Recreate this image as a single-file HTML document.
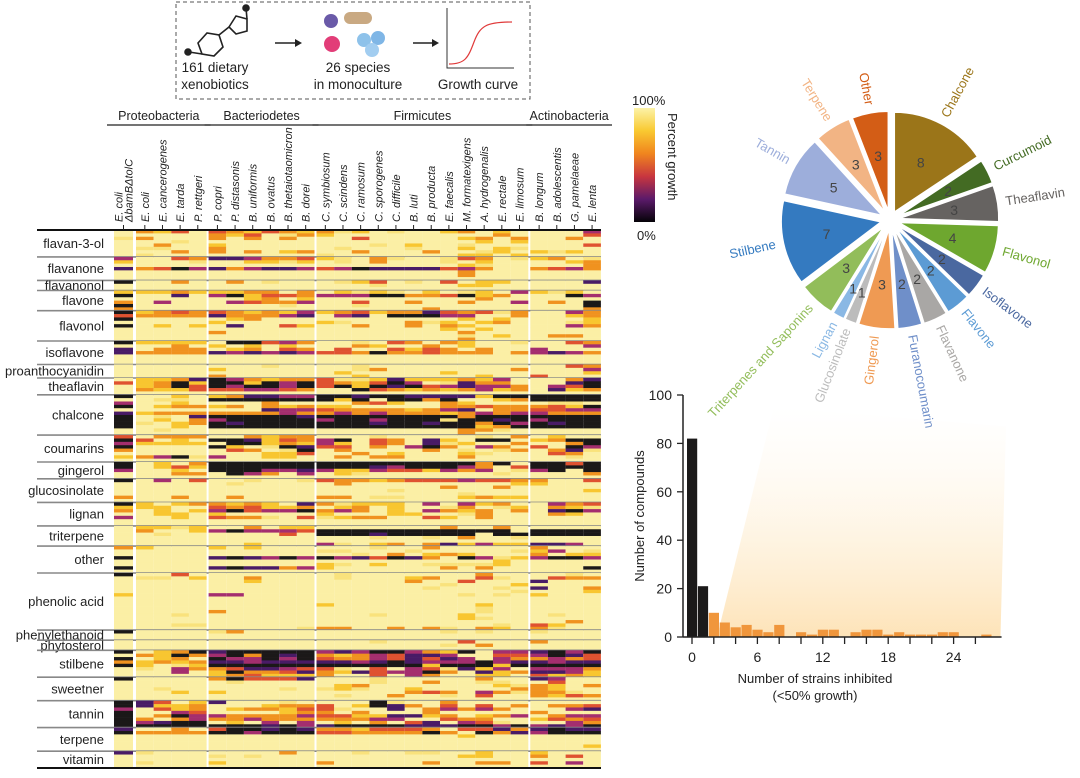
<!DOCTYPE html>
<html><head><meta charset="utf-8"><style>
html,body{margin:0;padding:0;background:#fff;}
svg{display:block;font-family:"Liberation Sans",sans-serif;}
</style></head><body>
<svg id="fig" width="1080" height="778" viewBox="0 0 1080 778" xmlns="http://www.w3.org/2000/svg">
<defs>
<linearGradient id="cbar" x1="0" y1="0" x2="0" y2="1">
<stop offset="0" stop-color="#fcf3a8"/><stop offset="0.2" stop-color="#f9c931"/><stop offset="0.4" stop-color="#f0851e"/><stop offset="0.6" stop-color="#c8363f"/><stop offset="0.8" stop-color="#5b1a6a"/><stop offset="1" stop-color="#050308"/>
</linearGradient>
<linearGradient id="fade" x1="0" y1="0" x2="0" y2="1">
<stop offset="0" stop-color="#fff6e6" stop-opacity="0"/><stop offset="1" stop-color="#fde0b0" stop-opacity="0.9"/>
</linearGradient>
</defs>
<g id="schematic">
<rect x="176" y="2" width="354" height="97" fill="none" stroke="#555" stroke-dasharray="4,3"/>
<g stroke="#222" stroke-width="1.6" fill="none">
<polygon points="198,43 207,33 219,35 223,47 214,56 202,54"/>
<line x1="189" y1="52" x2="202" y2="54"/>
<line x1="219" y1="35" x2="229" y2="27"/>
<polygon points="229,27 236,16 247,19 247,31 236,34"/>
<circle cx="188" cy="52" r="3" fill="#222"/>
<circle cx="246" cy="8" r="3" fill="#222"/>
<line x1="247" y1="19" x2="246" y2="8"/>
</g>
<text x="215" y="72" font-size="13.5" text-anchor="middle" fill="#222">161 dietary</text>
<text x="215" y="89" font-size="13.5" text-anchor="middle" fill="#222">xenobiotics</text>
<line x1="275" y1="43" x2="297" y2="43" stroke="#222" stroke-width="1.5"/>
<polygon points="302,43 295,39 295,47" fill="#222"/>
<g>
<circle cx="331" cy="21" r="7" fill="#6a5aa8"/>
<rect x="344" y="12" width="28" height="12" rx="6" fill="#c9a982"/>
<circle cx="332" cy="44" r="8" fill="#e23d78"/>
<circle cx="364" cy="40" r="7" fill="#8ec2ea"/>
<circle cx="378" cy="38" r="7" fill="#7fb6e6"/>
<circle cx="372" cy="50" r="7" fill="#a2cdf0"/>
</g>
<text x="358" y="72" font-size="13.5" text-anchor="middle" fill="#222">26 species</text>
<text x="358" y="89" font-size="13.5" text-anchor="middle" fill="#222">in monoculture</text>
<line x1="413" y1="43" x2="434" y2="43" stroke="#222" stroke-width="1.5"/>
<polygon points="439,43 432,39 432,47" fill="#222"/>
<g>
<polyline points="447,8 447,68 514,68" fill="none" stroke="#333" stroke-width="1"/>
<path d="M449,64 C465,64 468,58 474,42 C480,26 486,22 512,22" fill="none" stroke="#e03a3a" stroke-width="1.2"/>
</g>
<text x="478" y="89" font-size="13.5" text-anchor="middle" fill="#222">Growth curve</text>
</g>
<g id="heatmap"></g>
<g id="colorbar">
<rect x="634" y="108" width="21" height="114" fill="url(#cbar)"/>
<text x="632" y="105" font-size="13" fill="#222">100%</text>
<text x="637" y="240" font-size="13" fill="#222">0%</text>
<text transform="translate(668,113) rotate(90)" font-size="13" fill="#222">Percent growth</text>
</g>
<g id="pie"></g>
<g id="hist"></g>
</svg>
<script>
// ---------------- Heatmap data ----------------
const hmGroups = ["flavan-3-ol","flavanone","flavanonol","flavone","flavonol","isoflavone","proanthocyanidin","theaflavin","chalcone","coumarins","gingerol","glucosinolate","lignan","triterpene","other","phenolic acid","phenylethanoid","phytosterol","stilbene","sweetner","tannin","terpene","vitamin"];
const hmSpecies = ["E. coli|ΔbamBΔtolC","E. coli","E. cancerogenes","E. tarda","P. rettgeri","P. copri","P. distasonis","B. uniformis","B. ovatus","B. thetaiotaomicron","B. dorei","C. symbiosum","C. scindens","C. ramosum","C. sporogenes","C. difficile","B. luti","B. producta","E. faecalis","M. formatexigens","A. hydrogenalis","E. rectale","E. limosum","B. longum","B. adolescentis","G. pamelaeae","E. lenta"];
const phyla = ["Proteobacteria","Bacteriodetes","Firmicutes","Actinobacteria"];
const hmRows = [
[".|oyr.|royroy|oly.l..yo.y.|...m",".|....|oyr.lo|y.........o.|...r","l|o...|o.o.o.|..r.....yo.o|..o.",".|..l.|......|.........y.y|....",".|.o..|y.....|...l.y..l...|...r",".|ll..|o.....|.l...l..y.yl|....",".|..o.|o.o.yo|..o...o..ly.|yly.",".|l...|......|l.......yy.y|...."],
["m|..ro|ppmoor|yl.ol..lro.l|yo.l","y|...l|..yyly|.l.o...l.y..|..yo",".|....|......|........yl..|...o","p|orkm|pomppm|rmkpppprmo..|ormo",".|....|......|........o...|....",".|....|......|........o...|....",".|....|......|............|...."],
["k|..o.|.o.l..|.lyr.l.r.yy.|...p",".|....|......|...l....yy..|....",".|....|......|............|...."],
["y|yyoy|yyoo.o|.ylyl.y.ly.m|yly.","k|..p.|mkyrro|mmmkkoorkyo.|..km",".|....|..yo.y|.........o..|....","o|.m..|.mroom|..r..o..o..m|.o.k","k|....|....l.|..l.........|...k","o|....|......|......o.....|...o"],
["k|yoro|royoym|yoryooprorlo|..mo","r|oooo|pooomp|.mp.kkkmm..o|..yo","k|....|.yo...|........y.y.|...y",".|....|y.....|yl...oly.yo.|..ly","k|.y.y|.p..ry|..o..o.oy...|..mo",".|....|......|.......y.y..|....",".|....|o.....|........o...|....",".|....|......|........l.y.|.oo.",".|....|......|........o...|...."],
["k|yyyy|.kkrmo|..l.ro.oy..l|..ro",".|..o.|y.y.y.|..oy..o.y...|...m","p|.ooo|.yo.ro|.r..ryro.o..|m...","p|oooo|pmpmpm|rrokoorooo.o|mpmo",".|....|......|............|....",".|....|......|............|....",".|....|......|............|...."],
[".|....|...l..|..l.........|..ro",".|....|y.....|..lo.......o|...m",".|....|......|.y.....y....|...y",".|....|o.....|..y......y..|r..."],
[".|yyop|kmoyoo|rllypyyyoym.|..op","r|yoky|kkykmk|royrkm.lpoo.|..pk",".|yokr|kmkkmk|rkykpkrmpmmo|.mrk",".|oyyr|rrmmro|..kroyoyomyo|.pyo",".|....|......|............|...."],
["k|..y.|yoppmm|kkpkkppppykk|kkkk",".|.ll.|kkkkkk|kyk.kkok..yo|kkkk","m|..y.|...o..|..ory..oy...|.ll.","k|.yoo|yo.oyo|yy.....ooroo|oryk",".|....|...pmm|rooooyomp.oo|rrmm","p|yooo|oooomo|omomoooyomom|mooo","k|.l.p|kkkkkp|kkkkkkkkokkk|kkkk","k|.y.o|mkkkkk|mkkmkkklkkpk|mkkk","k|l.yo|kpkkkk|kkkpkkpkkokm|kpkk","k|..y.|kkkkkk|kkkkkkkkkyok|kkkk",".|.l..|......|........ool.|....",".|....|......|........o...|...."],
["r|.ooo|..oyoo|...l.....l.o|.y..","k|r.y.|kkpyro|mk.ro.py.kk.|yokk","m|yyyy|.kkyoy|my.ro.ply..o|..ok","k|....|ky.lkp|rr.o.mko.mo.|r.km","o|....|.ro.lk|.o....o.l.lo|.opl",".|....|...yyr|..o.y...yl..|.ro.","y|omkl|m..yy.|.o.oo...o...|..l.",".|....|......|............|...."],
["k|.y.o|kkkkkk|kkkkkkkkkok.|kkrk","k|.yry|kkkkkk|kkkpmkkkmo.r|kkkk","m|..y.|kkkmmp|myymrrymom.l|mk.k",".|..oo|.kmo.m|.yl.......l.|...o",".|....|......|............|...."],
["k|.m.r|..l..l|rooyorrrmrro|o..r",".|....|.l....|.o.........y|y...",".|....|......|.......o..o.|....",".|....|......|....l.......|...y",".|....|......|........l...|....","o|..o.|.o....|oo.ll...yoyy|....",".|....|......|............|...."],
["k|y.yo|oyoy.p|olyyy.m.myo.|.mor","y|yy..|roryyo|.yo.y..lo.ly|.oyl","o|.y.y|mkrmmk|omo.y.moyo.o|.pkm",".|.yy.|y.....|y...yy..lo..|.oy.","m|..y.|rool.r|lyoo..ry.o..|....",".|....|......|............|....",".|....|......|............|...."],
[".|yyly|..o.yy|.......o..o.|....",".|o..y|mkmmmr|kkkkkkkkkkk.|kkkk",".|.l..|....r.|kkkpkkkkk.kk|kkkk",".|....|......|...l..l.o..l|....",".|....|......|............|....",".|....|..y...|ml.yo.opymyy|ppm."],
["o|y...|y.y...|...l..o.....|o...",".|....|......|ll...l.....l|ym.l",".|....|......|..l.o.yoy...|o.yy","k|....|pkpmkm|kmprkpo.kmly|mkkm",".|....|......|..........y.|....",".|....|......|yl.y..lllly.|....","k|....|pkppom|y......o.o..|...k",".|....|......|............|...."],
["k|..r.|......|.l.......o..|..l.",".|ll.y|..o...|.l...yo..rl.|.roo",".|....|..y...|.....o..r...|p...",".|....|......|.......l...y|....",".|....|......|......l...l.|p..o",".|....|......|...........l|...y","y|....|mm....|........l.l.|y...",".|....|......|............|....",".|....|......|............|....",".|....|......|y........y..|....",".|....|......|.........l..|....",".|....|o.....|.........l..|....",".|..l.|......|...l....y...|.l..",".|....|......|........yl..|....",".|....|......|............|..o.",".|..ll|......|..........l.|ry..",".|....|.....l|oo..o.ol.oy.|ol.."],
["k|....|lo....|.......l.l..|l...",".|....|......|............|....",".|....|......|............|...."],
[".|....|......|...l....r...|o...",".|....|......|.......l.o..|....",".|....|......|............|...."],
["k|.yok|pkkkkk|mpmkkmoyk.mm|pkmk",".|oyko|mkokpk|oyomrppm..rr|mkpr","k|.yo.|kmmkmk|roomrprpm.mo|omor","o|yoyo|ppmppp|ppmpkpmmmkmp|pmpp","k|y.ly|kkkkkk|kkkkkkykkkyk|kkkk",".|l.mo|orppmr|rl.r.mrlpym.|mmmo",".|..m.|ykoorp|oyprmmko.pyo|ppmy",".|....|yoryyy|o..r.mo..yy.|ryoy"],
["k|....|okrrrp|...l.....o..|pm..",".|....|.l....|...l..o..ll.|.r..",".|....|......|.yo.......yl|oy.o",".|.l..|....l.|lyl..y.....o|oy..",".|..y.|y.....|.....oro.mol|ool.",".|....|......|.l..o..l.r..|oyro",".|....|......|............|...."],
["k|pr.y|p...l.|...kl..o....|....","k|pyyo|...yoo|r.ykpo.r.r.o|.oor","m|.ryo|.yooyr|rl..p.omomo.|..mp","k|..mr|....yo|o.o...o.....|o...","k|.okm|moooom|rryyppyo.yom|.omm","k|o.om|oomooo|ooomm..roo..|yror","k|mpkk|.y.m.m|.y.o.rp.mrl.|..mo","k|kkkk|kkkpkm|pkkkkpppkkmk|mpmk"],
["p|..o.|rkkpkp|ooyrrro.rrpo|pkpp","k|oooo|kkmkkk|rrooooko.kop|mkkk",".|....|......|........y...|....",".|....|......|............|....",".|....|......|............|....",".|....|......|............|...y",".|....|......|............|...."],
["p|l...|....o.|..l..ll..y..|y...",".|....|l.l...|........yy..|o.r.",".|....|......|............|....",".|l...|y.....|o.....o..oo.|r.m.",".|....|......|............|...."]
];
const levelColors = {'.':'#fbefa5','l':'#f9e27c','y':'#f8c630','o':'#f0921f','r':'#df5230','m':'#a42e6e','p':'#491b66','k':'#1b1818'};
// ---------------- Pie data ----------------
const pieLabels = ["Chalcone","Curcumoid","Theaflavin","Flavonol","Isoflavone","Flavone","Flavanone","Furanocoumarin","Gingerol","Glucosinolate","Lignan","Triterpenes and Saponins","Stilbene","Tannin","Terpene","Other"];
const pieCounts = [8,2,3,4,2,2,2,2,3,1,1,3,7,5,3,3];
const pieColors = ["#9b7519","#436b23","#666361","#6ea72f","#4a68a0","#5c9bd4","#a9a7a5","#6f8fc9","#ef9a53","#bcbcbc","#8ab8e4","#92bd5a","#347ac0","#9daedb","#f2b484","#d35d16"];
// ---------------- Histogram data ----------------
const histBins = [0,1,2,3,4,5,6,7,8,9,10,11,12,13,14,15,16,17,18,19,20,21,22,23,24,25,26,27];
const histCounts = [82,21,10,6,4,5,3,2,5,0,2,1,3,3,0,2,3,3,1,2,1,1,1,2,2,0,0,1];
const yTicks = [0,20,40,60,80,100];
const xTickLabels = [0,6,12,18,24];

const NS = "http://www.w3.org/2000/svg";
function mk(tag, attrs, parent){const e=document.createElementNS(NS,tag);for(const k in attrs)e.setAttribute(k,attrs[k]);parent.appendChild(e);return e;}

// ===== Heatmap =====
(function(){
const g=document.getElementById('heatmap');
const top=230,bottom=768;
const totalRows=hmRows.reduce((s,r)=>s+r.length,0);
const rowH=(bottom-top)/totalRows;
const cw=17.65;
function colX(i){if(i===0)return 114;const gaps=(i>=5)+(i>=11)+(i>=23);return 136+(i-1)*cw+gaps*2;}
function colW(i){return i===0?19:cw;}
mk('rect',{x:114,y:top,width:487,height:bottom-top,fill:'#ffffff'},g);
let y=top;
hmRows.forEach((rows,gi)=>{
  const gy=y;
  rows.forEach((s)=>{
    const str=(s.replace(/\|/g,'')+'.'.repeat(27)).slice(0,27);
    for(let c=0;c<27;c++){
      const r=mk('rect',{x:colX(c).toFixed(2),y:y.toFixed(2),width:colW(c).toFixed(2),height:(rowH+0.3).toFixed(2),fill:levelColors[str[c]]||levelColors['.']},g);
      
      
    }
    y+=rowH;
  });
  const t=mk('text',{x:104,y:((gy+y)/2+4.5).toFixed(1),'font-size':13,'text-anchor':'end',fill:'#222'},g);
  t.textContent=hmGroups[gi];
  
  
  if(gi<hmRows.length-1){
    const l=mk('line',{x1:37,x2:601,y1:y.toFixed(1),y2:y.toFixed(1),stroke:'#888',"stroke-width":1.6},g);
    
    
  }
});
mk('line',{x1:37,x2:601,y1:top,y2:top,stroke:'#111',"stroke-width":2},g);
mk('line',{x1:37,x2:601,y1:bottom,y2:bottom,stroke:'#111',"stroke-width":2},g);
hmSpecies.forEach((name,i)=>{
  const cx=colX(i)+colW(i)/2;
  mk('line',{x1:cx,x2:cx,y1:top-5,y2:top,stroke:'#222',"stroke-width":1},g);
  const parts=name.split('|');
  parts.forEach((p,k)=>{
    const off=(parts.length===2)?(k===0?-5:5):0;
    const t=mk('text',{transform:`translate(${(cx+4+off).toFixed(1)},${top-8}) rotate(-90)`,'font-size':11,'font-style':'italic',fill:'#222'},g);
    t.textContent=p;
    
    
  });
});
const spans=[[0,4],[5,10],[11,22],[23,26]];
phyla.forEach((p,i)=>{
  const x1=(i===0?107:colX(spans[i][0])-4), x2=(i===3?612:colX(spans[i][1])+colW(spans[i][1])+4);
  const l=mk('line',{x1:x1,x2:x2,y1:125,y2:125,stroke:'#222',"stroke-width":1.3},g);
  
  
  const t=mk('text',{x:((x1+x2)/2).toFixed(1),y:120,'font-size':12.5,'text-anchor':'middle',fill:'#222'},g);
  t.textContent=p;
  
  
});
})();

// ===== Pie =====
(function(){
const g=document.getElementById('pie');
const cx=890,cy=220,R=100,off=9;
const total=pieCounts.reduce((a,b)=>a+b,0);
let cum=0;
pieCounts.forEach((v,i)=>{
  const a0=cum/total*2*Math.PI, a1=(cum+v)/total*2*Math.PI, am=(a0+a1)/2;
  cum+=v;
  const ox=cx+off*Math.sin(am), oy=cy-off*Math.cos(am);
  const p0=[ox+R*Math.sin(a0),oy-R*Math.cos(a0)], p1=[ox+R*Math.sin(a1),oy-R*Math.cos(a1)];
  const large=(a1-a0)>Math.PI?1:0;
  const w=mk('path',{d:`M${ox.toFixed(1)},${oy.toFixed(1)} L${p0[0].toFixed(1)},${p0[1].toFixed(1)} A${R},${R} 0 ${large} 1 ${p1[0].toFixed(1)},${p1[1].toFixed(1)} Z`,fill:pieColors[i],stroke:'#fff','stroke-width':1.5},g);
  
  
  const nr=v>1?65:78;
  const n=mk('text',{x:(cx+nr*Math.sin(am)).toFixed(1),y:(cy-nr*Math.cos(am)+5).toFixed(1),'font-size':14,'text-anchor':'middle',fill:'#444'},g);
  n.textContent=v;
  
  
  const lr=117;
  const lx=cx+lr*Math.sin(am), ly=cy-lr*Math.cos(am);
  let deg=am*180/Math.PI-90;
  let anchor='start';
  if(deg>90&&deg<270){deg-=180;anchor='end';}
  const t=mk('text',{transform:`translate(${lx.toFixed(1)},${ly.toFixed(1)}) rotate(${deg.toFixed(1)})`,'font-size':13,'text-anchor':anchor,'dominant-baseline':'middle',fill:pieColors[i]},g);
  t.textContent=pieLabels[i];
  
  
});
})();

// ===== Histogram =====
(function(){
const g=document.getElementById('hist');
const x0=692, unit=10.9, yb=637, yt=395, ymax=100;
const X=v=>x0+v*unit, Y=v=>yb-(v/ymax)*(yb-yt);
const f=mk('polygon',{points:`${X(2.4)},${Y(2)} ${X(7.5)},${Y(95)} ${X(28.8)},${Y(87)} ${X(28.3)},${yb} ${X(2.4)},${yb}`,fill:'url(#fade)'},g);


histBins.forEach((b,i)=>{
  const v=histCounts[i]; if(!v)return;
  const r=mk('rect',{x:(X(b)-5).toFixed(1),y:Y(v).toFixed(1),width:10.2,height:(yb-Y(v)).toFixed(1),fill:b<2?'#1b1a1a':'#f0963c'},g);
  
  
});
mk('line',{x1:683,x2:683,y1:yt,y2:yb,stroke:'#222','stroke-width':1.5},g);
mk('line',{x1:683,x2:X(28.4),y1:yb,y2:yb,stroke:'#222','stroke-width':1.5},g);
yTicks.forEach(v=>{
  mk('line',{x1:677,x2:683,y1:Y(v),y2:Y(v),stroke:'#222','stroke-width':1.3},g);
  const t=mk('text',{x:672,y:Y(v)+5,'font-size':14,'text-anchor':'end',fill:'#222'},g);
  t.textContent=v;
  
  
});
for(let v=0;v<=26;v+=2){mk('line',{x1:X(v),x2:X(v),y1:yb,y2:yb+7,stroke:'#222','stroke-width':1.3},g);}
xTickLabels.forEach(v=>{
  const t=mk('text',{x:X(v),y:yb+25,'font-size':14,'text-anchor':'middle',fill:'#222'},g);
  t.textContent=v;
  
  
});
const yt1=mk('text',{transform:'translate(644,516) rotate(-90)','font-size':13,'text-anchor':'middle',fill:'#222'},g);
yt1.textContent='Number of compounds';


const xt1=mk('text',{x:815,y:683,'font-size':13,'text-anchor':'middle',fill:'#222'},g);
xt1.textContent='Number of strains inhibited';


const xt2=mk('text',{x:815,y:700,'font-size':13,'text-anchor':'middle',fill:'#222'},g);
xt2.textContent='(<50% growth)';


})();
</script>
</body></html>
